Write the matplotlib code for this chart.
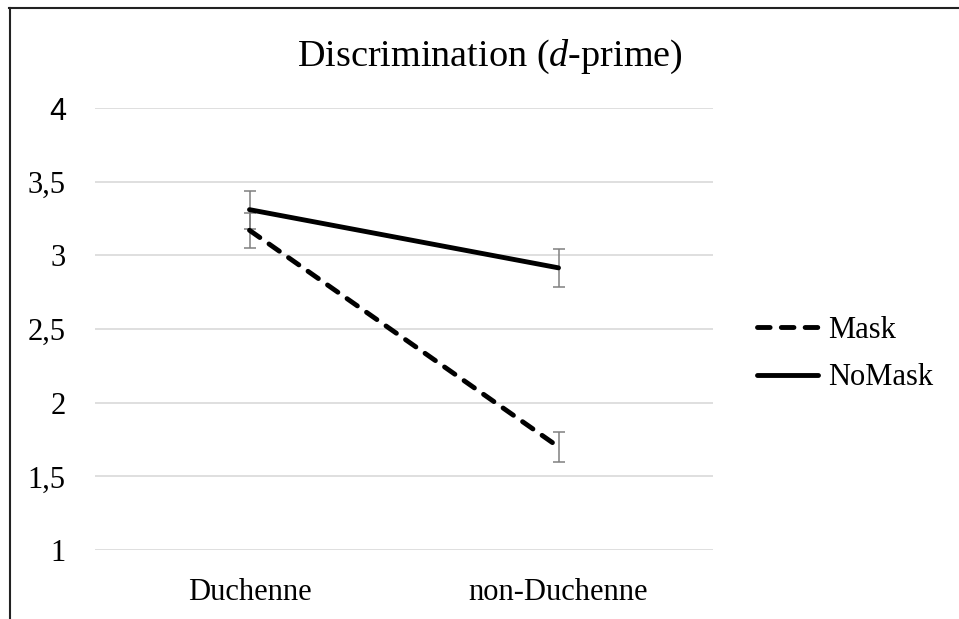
import matplotlib
matplotlib.use('Agg')
import matplotlib.pyplot as plt
from matplotlib.lines import Line2D

categories = ['Duchenne', 'non-Duchenne']
mask_vals = [3.17, 1.70]
mask_err = [0.12, 0.10]
nomask_vals = [3.31, 2.915]
nomask_err = [0.13, 0.13]
yticks = [1, 1.5, 2, 2.5, 3, 3.5, 4]
ytick_labels = ['1', '1,5', '2', '2,5', '3', '3,5', '4']

plt.rcParams['font.family'] = 'Liberation Serif'
plt.rcParams['mathtext.fontset'] = 'custom'
plt.rcParams['mathtext.rm'] = 'Liberation Serif'
plt.rcParams['mathtext.it'] = 'Liberation Serif:italic'

fig = plt.figure(figsize=(9.59, 6.19), dpi=100)
ax = fig.add_axes([95/959, 1 - 550/619, 618/959, 442/619])

x = range(len(categories))
err_color = '#808080'

ax.errorbar(x, mask_vals, yerr=mask_err, fmt='none', ecolor=err_color,
            elinewidth=1.1, capsize=4.3, capthick=1.1, zorder=2)
ax.errorbar(x, nomask_vals, yerr=nomask_err, fmt='none', ecolor=err_color,
            elinewidth=1.1, capsize=4.3, capthick=1.1, zorder=2)

ax.plot(x, mask_vals, color='black', lw=3.5, dashes=(2.6, 2.3),
        dash_capstyle='round', solid_capstyle='round', label='Mask', zorder=3)
ax.plot(x, nomask_vals, color='black', lw=3.5, solid_capstyle='round',
        label='NoMask', zorder=3)

ax.set_xlim(-0.5, 1.5)
ax.set_ylim(1, 4)
ax.set_yticks(yticks)
ax.set_yticklabels(ytick_labels)
ax.set_xticks(list(x))
ax.set_xticklabels(categories)
ax.tick_params(axis='both', length=0, labelsize=22)
ax.tick_params(axis='y', pad=21)
ax.tick_params(axis='x', pad=20)
# the top label is rendered in a sans face in the original
ax.get_yticklabels()[-1].set_family('Liberation Sans')
ax.grid(axis='y', color='#d9d9d9', lw=1.2)
ax.set_axisbelow(True)
for s in ax.spines.values():
    s.set_visible(False)

fig.text(490/959, 1 - 57/619, r'Discrimination ($\mathit{d}$-prime)',
         ha='center', va='center', fontsize=27.5)

fig.legend(loc='center left', bbox_to_anchor=(729/959, 1 - 354/619),
           frameon=False, fontsize=22, handlelength=2.0, handletextpad=0.35,
           labelspacing=0.62)

# border of the chart area (cropped on the right/bottom)
fig.add_artist(Line2D([9.5/959, 9.5/959], [0, 1 - 8/619], color='#222222', lw=1.5))
fig.add_artist(Line2D([9/959, 1], [1 - 8/619, 1 - 8/619], color='#222222', lw=1.5))

fig.savefig('out.png', dpi=100)
